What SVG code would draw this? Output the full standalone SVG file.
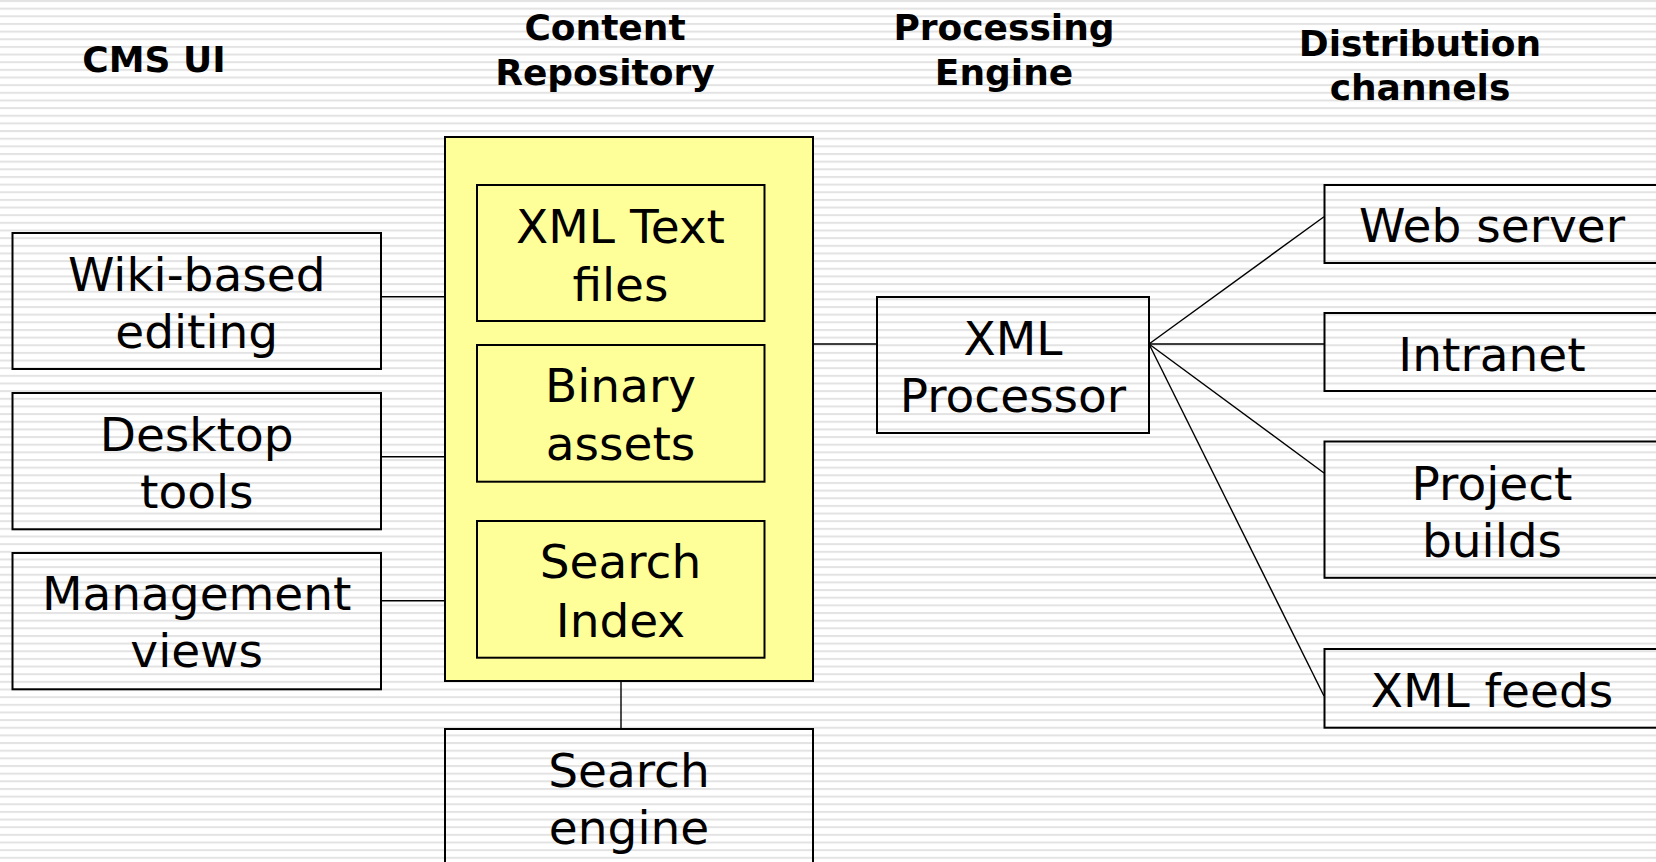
<svg xmlns="http://www.w3.org/2000/svg" width="1656" height="862" viewBox="0 0 1656 862">
<defs>
<pattern id="stripes" x="0" y="0" width="16" height="7.65" patternUnits="userSpaceOnUse">
<rect x="0" y="0" width="16" height="7.65" fill="#ffffff"/>
<rect x="0" y="0" width="16" height="2" fill="#e3e3e3"/>
</pattern>
<style>
.title{font-family:"DejaVu Sans",Verdana,sans-serif;font-weight:bold;font-size:36px;fill:#000;text-anchor:middle}
.lbl{font-family:"DejaVu Sans",Verdana,sans-serif;font-size:47px;fill:#000;text-anchor:middle}
.box{fill:none;stroke:#000;stroke-width:2}
.ybox{fill:#ffff99;stroke:#000;stroke-width:2}
.conn line{stroke:#000;stroke-width:1.4}
</style>
</defs>
<rect x="0" y="0" width="1656" height="862" fill="url(#stripes)"/>

<g id="titles">
<text class="title" x="154" y="72">CMS UI</text>
<text class="title" x="605" y="40">Content</text>
<text class="title" x="605" y="84.5">Repository</text>
<text class="title" x="1004" y="40">Processing</text>
<text class="title" x="1004" y="84.5">Engine</text>
<text class="title" x="1420" y="56">Distribution</text>
<text class="title" x="1420" y="100">channels</text>
</g>

<g id="connectors" class="conn">
<line x1="381" y1="296.7" x2="445" y2="296.7"/>
<line x1="381" y1="456.7" x2="445" y2="456.7"/>
<line x1="381" y1="600.7" x2="445" y2="600.7"/>
<line x1="813" y1="344" x2="877" y2="344"/>
<line x1="621" y1="681" x2="621" y2="729"/>
<line x1="1149" y1="344" x2="1324" y2="216.7"/>
<line x1="1149" y1="344" x2="1324" y2="344"/>
<line x1="1149" y1="344" x2="1324" y2="473"/>
<line x1="1149" y1="344" x2="1324" y2="696"/>
</g>

<g id="wiki">
<rect class="box" x="12.5" y="233" width="368.5" height="136"/>
<text class="lbl" x="196.7" y="291">Wiki-based</text>
<text class="lbl" x="196.7" y="348.3">editing</text>
</g>
<g id="desktop">
<rect class="box" x="12.5" y="393" width="368.5" height="136.3"/>
<text class="lbl" x="196.7" y="451">Desktop</text>
<text class="lbl" x="196.7" y="508.3">tools</text>
</g>
<g id="management">
<rect class="box" x="12.5" y="553" width="368.5" height="136.3"/>
<text class="lbl" x="196.7" y="610">Management</text>
<text class="lbl" x="196.7" y="667.3">views</text>
</g>

<g id="repository">
<rect class="ybox" x="445" y="137" width="368" height="544"/>
</g>
<g id="xmltext">
<rect class="ybox" x="477" y="185" width="287.5" height="136"/>
<text class="lbl" x="620.5" y="242.7">XML Text</text>
<text class="lbl" x="620.5" y="301">files</text>
</g>
<g id="binary">
<rect class="ybox" x="477" y="345" width="287.5" height="136.7"/>
<text class="lbl" x="620.5" y="402.3">Binary</text>
<text class="lbl" x="620.5" y="460">assets</text>
</g>
<g id="searchindex">
<rect class="ybox" x="477" y="521" width="287.5" height="136.7"/>
<text class="lbl" x="620.5" y="578.3">Search</text>
<text class="lbl" x="620.5" y="636.7">Index</text>
</g>

<g id="searchengine">
<rect class="box" x="445" y="729" width="368" height="136"/>
<text class="lbl" x="629" y="786.7">Search</text>
<text class="lbl" x="629" y="844.3">engine</text>
</g>

<g id="xmlprocessor">
<rect class="box" x="877" y="297" width="272" height="136"/>
<text class="lbl" x="1013" y="355">XML</text>
<text class="lbl" x="1013" y="412.3">Processor</text>
</g>

<g id="webserver">
<rect class="box" x="1324.5" y="185" width="336" height="78"/>
<text class="lbl" x="1492" y="242.3">Web server</text>
</g>
<g id="intranet">
<rect class="box" x="1324.5" y="313" width="336" height="78"/>
<text class="lbl" x="1492" y="371">Intranet</text>
</g>
<g id="projectbuilds">
<rect class="box" x="1324.5" y="441.5" width="336" height="136.3"/>
<text class="lbl" x="1492" y="499.5">Project</text>
<text class="lbl" x="1492" y="556.8">builds</text>
</g>
<g id="xmlfeeds">
<rect class="box" x="1324.5" y="649" width="336" height="78.7"/>
<text class="lbl" x="1492" y="706.6">XML feeds</text>
</g>
</svg>
